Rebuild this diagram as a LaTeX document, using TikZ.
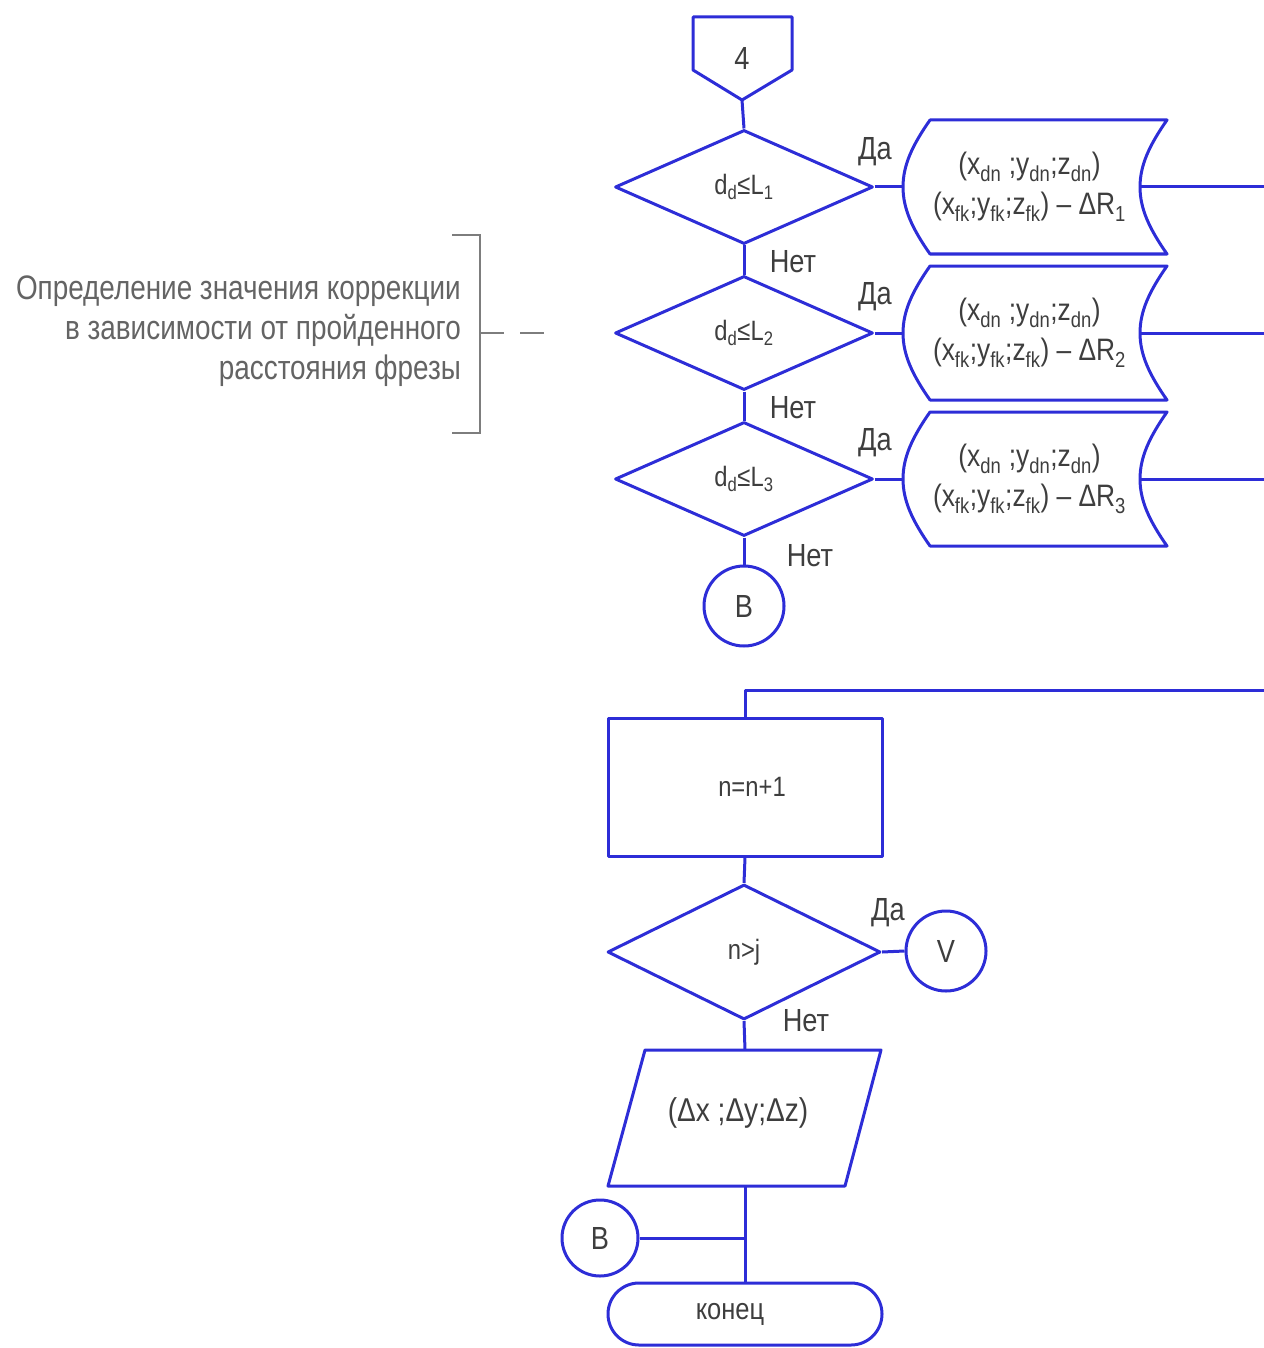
\documentclass[tikz,border=0pt]{standalone}
\usepackage{fontspec}
\setmainfont{Liberation Sans}[FakeStretch=0.85]
\newfontfamily\notefont{Liberation Sans}[FakeStretch=0.82]
\usetikzlibrary{shapes.geometric,calc}
\definecolor{flowblue}{RGB}{45,45,215}
\definecolor{inkgray}{RGB}{62,62,62}
\definecolor{notegray}{RGB}{125,125,125}

% stored-data block: #1 name, #2 centre y, #3 text
\newcommand\storedbox[3]{%
  \begin{scope}[shift={(1021.5,#2)}]
    \draw[flow] (-91.5,-67) -- (145.5,-67)
      .. controls (128,-42) and (118.5,-22) .. (118.5,0)
      .. controls (118.5,22) and (128,42) .. (145.5,67)
      -- (-91.5,67)
      .. controls (-109,42) and (-118.5,22) .. (-118.5,0)
      .. controls (-118.5,-22) and (-109,-42) .. (-91.5,-67) -- cycle;
    \node[datatxt] (#1) at (8,0) {#3};
    \coordinate (#1in) at (-118.5,0);
    \coordinate (#1out) at (118.5,0);
  \end{scope}}

\begin{document}
\begin{tikzpicture}[x=1pt,y=-1pt,
  flow/.style={draw=flowblue, line width=3pt, line join=round},
  txt/.style={text=inkgray, font=\fontsize{32}{38}\selectfont, inner sep=0pt},
  datatxt/.style={txt, align=center, font=\fontsize{31}{40}\selectfont},
  decision/.style={flow, diamond, aspect=2.2, inner sep=0pt, text=inkgray,
    font=\fontsize{28}{34}\selectfont, minimum width=258pt, minimum height=114pt},
  connector/.style={flow, circle, minimum size=80pt, inner sep=0pt, text=inkgray,
    font=\fontsize{32}{38}\selectfont},
  process/.style={flow, rectangle, minimum width=274pt, minimum height=138pt,
    text=inkgray, font=\fontsize{28}{34}\selectfont},
  terminal/.style={flow, rectangle, rounded corners=31pt, minimum width=274pt,
    minimum height=62pt, text=inkgray, font=\fontsize{30}{36}\selectfont},
  note/.style={draw=notegray, line width=2pt}
]
\useasboundingbox (0,0) rectangle (1263,1348);

% off-page connector
\draw[flow] (693,17) -- (792,17) -- (792,70) -- (742,100) -- (693,70) -- cycle;
\node[txt] (page) at (742,58) {4};
\coordinate (pageout) at (742,100);

% decisions on the travelled distance
\node[decision] (c1) at (744,187) {d\textsubscript{d}≤L\textsubscript{1}};
\node[decision] (c2) at (744,333) {d\textsubscript{d}≤L\textsubscript{2}};
\node[decision] (c3) at (744,479) {d\textsubscript{d}≤L\textsubscript{3}};
\node[connector] (b1) at (744,606) {В};

% stored data blocks
\storedbox{s1}{187}{(x\textsubscript{dn} ;y\textsubscript{dn};z\textsubscript{dn})\\(x\textsubscript{fk};y\textsubscript{fk};z\textsubscript{fk}) – ΔR\textsubscript{1}}
\storedbox{s2}{333}{(x\textsubscript{dn} ;y\textsubscript{dn};z\textsubscript{dn})\\(x\textsubscript{fk};y\textsubscript{fk};z\textsubscript{fk}) – ΔR\textsubscript{2}}
\storedbox{s3}{479}{(x\textsubscript{dn} ;y\textsubscript{dn};z\textsubscript{dn})\\(x\textsubscript{fk};y\textsubscript{fk};z\textsubscript{fk}) – ΔR\textsubscript{3}}

% branch labels
\node[txt] (y1) at (875,152) {Да};
\node[txt] (y2) at (875,297) {Да};
\node[txt] (y3) at (875,443) {Да};
\node[txt] (n1) at (793,262) {Нет};
\node[txt] (n2) at (793,408) {Нет};
\node[txt] (n3) at (810,556) {Нет};

% main line
\draw[flow] (pageout) -- (c1.north);
\draw[flow] (c1.south) -- (c2.north);
\draw[flow] (c2.south) -- (c3.north);
\draw[flow] (c3.south) -- (b1.north);
\draw[flow] (c1.east) -- (s1in);
\draw[flow] (c2.east) -- (s2in);
\draw[flow] (c3.east) -- (s3in);

% return bus running along the right edge
\coordinate (bus) at (1265,690);
\node[process] (r1) at (745,787) {\hspace*{14pt}n=n+1};
\draw[flow] (s1out) -- (s1out -| bus) -- (bus) -- (bus -| r1.north) -- (r1.north);
\draw[flow] (s2out) -- (s2out -| bus);
\draw[flow] (s3out) -- (s3out -| bus);

% loop test
\node[decision, minimum width=273pt, minimum height=135pt] (c4) at (744,952) {n>j};
\node[connector] (v) at (946,951) {V};
\node[txt] (y4) at (888,913) {Да};
\node[txt] (n4) at (806,1021) {Нет};
\draw[flow] (r1.south) -- (c4.north);
\draw[flow] (c4.east) -- (v.west);

% output block
\draw[flow] (645,1050) -- (881,1050) -- (845,1186) -- (608,1186) -- cycle;
\node[txt, font=\fontsize{33}{38}\selectfont] (out) at (738,1113) {(Δx ;Δy;Δz)};
\coordinate (outtop) at (745,1050);
\coordinate (outbot) at (745,1186);
\draw[flow] (c4.south) -- (outtop);

% join and end
\node[connector, minimum size=76pt] (b2) at (600,1238) {В};
\node[terminal] (end) at (745,1314) {\raisebox{-6pt}{конец}\hspace*{30pt}};
\coordinate (jn) at (745,1238);
\draw[flow] (outbot) -- (end.north);
\draw[flow] (b2.east) -- (jn);

% annotation
\draw[note] (452,235) -- (480,235) -- (480,433) -- (452,433);
\coordinate (brk) at (480,333);
\coordinate (noteend) at (545,333);
\draw[note, dash pattern=on 24pt off 16pt] (brk) -- (noteend);
\node[txt, text=notegray!80!black, align=right, anchor=east,
  font=\notefont\fontsize{34}{40}\selectfont] (anno) at (461,331)
  {Определение значения коррекции\\в зависимости от пройденного\\расстояния фрезы};
\end{tikzpicture}
\end{document}
